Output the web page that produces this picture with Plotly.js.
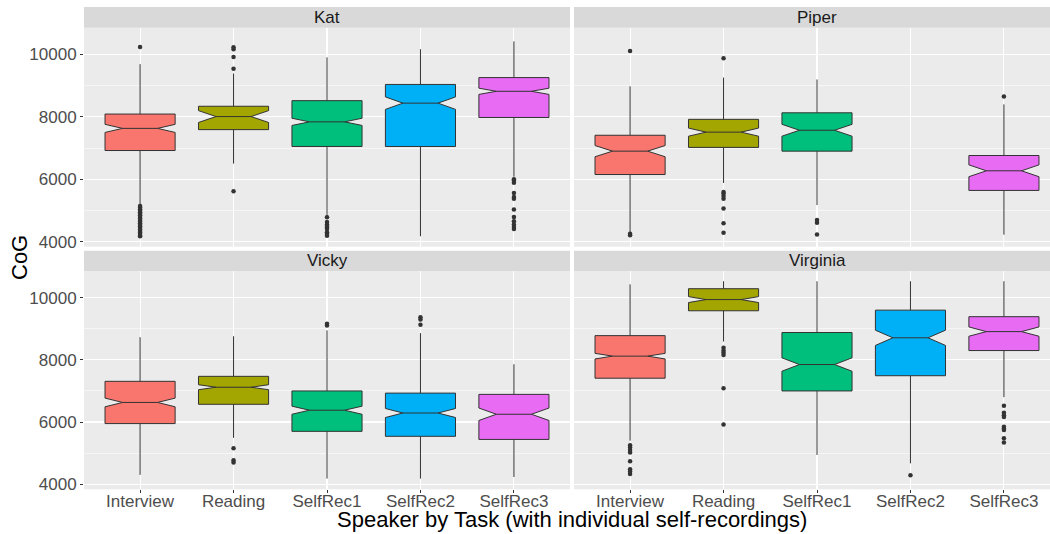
<!DOCTYPE html>
<html>
<head>
<meta charset="utf-8">
<script src="https://cdn.plot.ly/plotly-3.0.1.min.js"></script>
<style>html,body{margin:0;padding:0;background:#fff;}#chart{width:1050px;height:534px;}</style>
</head>
<body>
<div id="chart"></div>
<script>
// ---- Data ----
const tasks = ['Interview', 'Reading', 'SelfRec1', 'SelfRec2', 'SelfRec3'];
const speakers = ['Kat', 'Piper', 'Vicky', 'Virginia'];
const taskColors = ['#F8766D', '#A3A500', '#00BF7D', '#00B0F6', '#E76BF3'];
const yTicks = [4000, 6000, 8000, 10000];
const yMinorTicks = [5000, 7000, 9000];

// Kat
const katLower  = [5200, 6500, 4810, 4170, 6080];
const katQ1     = [6920, 7590, 7050, 7050, 7980];
const katMedian = [7630, 8010, 7840, 8440, 8820];
const katQ3     = [8090, 8340, 8520, 9040, 9260];
const katUpper  = [9690, 9390, 9910, 10170, 10420];
const katNotch  = [130, 190, 115, 200, 100];
const katOutliers = [
  [10240, 5140, 5090, 5040, 4990, 4940, 4890, 4840, 4790, 4740, 4690, 4640, 4590, 4540, 4490, 4440, 4390, 4340, 4290, 4240, 4190, 4170],
  [10230, 10170, 9920, 9540, 5610],
  [4780, 4630, 4550, 4500, 4450, 4400, 4300, 4250, 4190],
  [],
  [6000, 5950, 5890, 5560, 5430, 5370, 5030, 4790, 4650, 4550, 4470, 4400]
];

// Piper (no SelfRec2)
const piperLower  = [4300, 5880, 5170, null, 4220];
const piperQ1     = [6150, 7020, 6900, null, 5640];
const piperMedian = [6900, 7510, 7570, null, 6270];
const piperQ3     = [7410, 7920, 8130, null, 6760];
const piperUpper  = [8980, 9260, 9200, null, 8400];
const piperNotch  = [180, 130, 190, null, 190];
const piperOutliers = [
  [10110, 4250, 4200],
  [9880, 5590, 5540, 5460, 5370, 5060, 4590, 4280],
  [4690, 4600, 4230],
  [],
  [8650]
];

// Vicky
const vickyLower  = [4300, 5490, 4180, 4180, 4230];
const vickyQ1     = [5950, 6570, 5700, 5540, 5440];
const vickyMedian = [6630, 7120, 6380, 6290, 6250];
const vickyQ3     = [7310, 7470, 7000, 6930, 6890];
const vickyUpper  = [8730, 8760, 8950, 8860, 7860];
const vickyNotch  = [140, 80, 130, 145, 200];
const vickyOutliers = [
  [],
  [5160, 4770, 4700],
  [9160, 9110],
  [9370, 9300, 9130],
  []
];

// Virginia
const virginiaLower  = [5400, 8590, 4940, 4670, 6800];
const virginiaQ1     = [7410, 9580, 7000, 7490, 8300];
const virginiaMedian = [8120, 9940, 7850, 8710, 8910];
const virginiaQ3     = [8780, 10290, 8880, 9600, 9390];
const virginiaUpper  = [10430, 10530, 10530, 10530, 10530];
const virginiaNotch  = [90, 96, 215, 245, 150];
const virginiaOutliers = [
  [5250, 5180, 5100, 5020, 4740, 4480, 4410, 4330],
  [8390, 8300, 8230, 8160, 7090, 5920],
  [],
  [4290],
  [6520, 6300, 6220, 6160, 5850, 5790, 5740, 5480, 5340]
];

const speakerStats = {
  Kat:      {lo: katLower, q1: katQ1, med: katMedian, q3: katQ3, hi: katUpper, notch: katNotch, out: katOutliers},
  Piper:    {lo: piperLower, q1: piperQ1, med: piperMedian, q3: piperQ3, hi: piperUpper, notch: piperNotch, out: piperOutliers},
  Vicky:    {lo: vickyLower, q1: vickyQ1, med: vickyMedian, q3: vickyQ3, hi: vickyUpper, notch: vickyNotch, out: vickyOutliers},
  Virginia: {lo: virginiaLower, q1: virginiaQ1, med: virginiaMedian, q3: virginiaQ3, hi: virginiaUpper, notch: virginiaNotch, out: virginiaOutliers}
};

// ---- Layout geometry (pixels -> paper) ----
const W = 1050, H = 534;
const px = v => v / W;
const py = v => 1 - v / H;
const leftDom = [px(84), px(570)];
const rightDom = [px(574), 1];
const topDom = [py(246.7), py(27.7)];
const botDom = [py(489.3), py(271)];
const yRange = [3835, 10860];
const axisIds = [['x', 'y'], ['x2', 'y2'], ['x3', 'y3'], ['x4', 'y4']];

const traces = [];
speakers.forEach((sp, si) => {
  const s = speakerStats[sp];
  const [xa, ya] = axisIds[si];
  tasks.forEach((t, ti) => {
    if (s.q1[ti] === null) return;
    traces.push({
      type: 'box', xaxis: xa, yaxis: ya,
      x: [t], q1: [s.q1[ti]], median: [s.med[ti]], q3: [s.q3[ti]],
      lowerfence: [s.lo[ti]], upperfence: [s.hi[ti]], notchspan: [s.notch[ti]],
      notched: true, notchwidth: 0.25, width: 0.75, whiskerwidth: 0,
      boxpoints: false, fillcolor: taskColors[ti],
      line: {color: '#333333', width: 1},
      showlegend: false, hoverinfo: 'y'
    });
    if (s.out[ti].length) {
      traces.push({
        type: 'scatter', mode: 'markers', xaxis: xa, yaxis: ya,
        x: s.out[ti].map(() => t), y: s.out[ti],
        marker: {color: '#333333', size: 4.5},
        showlegend: false, hoverinfo: 'y'
      });
    }
  });
});

const tickFont = {family: 'Liberation Sans, Arial, sans-serif', size: 17, color: '#4D4D4D'};

function xAxis(domain, anchor, bottom, right) {
  return {
    domain: domain, anchor: anchor, type: 'category',
    categoryorder: 'array', categoryarray: tasks,
    range: [-0.6, right ? -0.6 + 5.2 * 476 / 486 : 4.6],
    showgrid: true, gridcolor: '#FFFFFF', gridwidth: 1.07,
    zeroline: false, showline: false,
    showticklabels: bottom, ticks: bottom ? 'outside' : '', ticklen: 3, tickwidth: 1, tickcolor: '#333333',
    ticklabelstandoff: -7,
    tickfont: tickFont, fixedrange: true
  };
}
function yAxis(domain, anchor, left) {
  return {
    domain: domain, anchor: anchor, range: yRange,
    tickvals: yTicks, ticktext: yTicks.map(String),
    showgrid: true, gridcolor: '#FFFFFF', gridwidth: 1.07,
    minor: {tickvals: yMinorTicks, showgrid: true, gridcolor: '#FFFFFF', gridwidth: 0.53, ticks: ''},
    zeroline: false, showline: false,
    showticklabels: left, ticks: left ? 'outside' : '', ticklen: 3, tickwidth: 1, tickcolor: '#333333',
    tickfont: tickFont, fixedrange: true
  };
}

const stripFont = {family: 'Liberation Sans, Arial, sans-serif', size: 17, color: '#1A1A1A'};
const strips = [
  {x: leftDom, y: [py(27.7), py(7)], label: speakers[0], cx: px(327)},
  {x: rightDom, y: [py(27.7), py(7)], label: speakers[1], cx: px(817)},
  {x: leftDom, y: [py(271), py(250.7)], label: speakers[2], cx: px(327)},
  {x: rightDom, y: [py(271), py(250.7)], label: speakers[3], cx: px(817)}
];

const shapes = strips.map(s => ({
  type: 'rect', xref: 'paper', yref: 'paper',
  x0: s.x[0], x1: s.x[1], y0: s.y[0], y1: s.y[1],
  fillcolor: '#D9D9D9', line: {width: 0}, layer: 'below'
}));
const annotations = strips.map(s => ({
  xref: 'paper', yref: 'paper', x: s.cx, y: (s.y[0] + s.y[1]) / 2,
  text: s.label, showarrow: false, xanchor: 'center', yanchor: 'middle', font: stripFont
}));
annotations.push({
  xref: 'paper', yref: 'paper', x: px(572), y: py(519),
  text: 'Speaker by Task (with individual self-recordings)', showarrow: false,
  xanchor: 'center', yanchor: 'middle',
  font: {family: 'Liberation Sans, Arial, sans-serif', size: 22, color: '#000000'}
});
annotations.push({
  xref: 'paper', yref: 'paper', x: px(19), y: py(258),
  text: 'CoG', showarrow: false, textangle: -90,
  xanchor: 'center', yanchor: 'middle',
  font: {family: 'Liberation Sans, Arial, sans-serif', size: 22, color: '#000000'}
});

const layout = {
  width: W, height: H,
  margin: {l: 0, r: 0, t: 0, b: 0, pad: 0},
  paper_bgcolor: '#FFFFFF', plot_bgcolor: '#EBEBEB',
  font: {family: 'Liberation Sans, Arial, sans-serif'},
  showlegend: false, boxmode: 'overlay',
  xaxis:  xAxis(leftDom, 'y', false, false),
  yaxis:  yAxis(topDom, 'x', true),
  xaxis2: xAxis(rightDom, 'y2', false, true),
  yaxis2: yAxis(topDom, 'x2', false),
  xaxis3: xAxis(leftDom, 'y3', true, false),
  yaxis3: yAxis(botDom, 'x3', true),
  xaxis4: xAxis(rightDom, 'y4', true, true),
  yaxis4: yAxis(botDom, 'x4', false),
  shapes: shapes,
  annotations: annotations
};

Plotly.newPlot('chart', traces, layout, {displayModeBar: false, staticPlot: true});
</script>
</body>
</html>
